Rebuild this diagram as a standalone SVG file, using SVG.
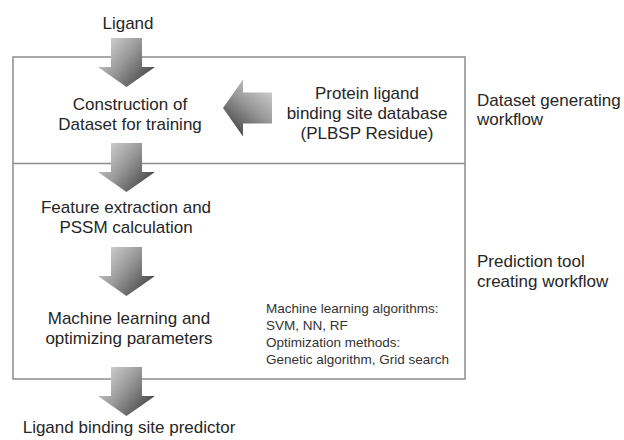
<svg xmlns="http://www.w3.org/2000/svg" xmlns:xlink="http://www.w3.org/1999/xlink" width="624" height="440" viewBox="0 0 624 440">
  <defs>
    <style>
      .t { font-family: "Liberation Sans", Arial, sans-serif; font-size: 17px; fill: #262626; }
      .c { text-anchor: middle; }
      .s { font-family: "Liberation Sans", Arial, sans-serif; font-size: 13.5px; fill: #333333; }
      .frame { fill: none; stroke: #8c8c8c; stroke-width: 1.5; }
      .arrow { fill: url(#arrowShade); }
    </style>
    <linearGradient id="arrowShade" x1="0" y1="0.15" x2="1" y2="0.85">
      <stop offset="0" stop-color="#d6d6d6"/>
      <stop offset="0.45" stop-color="#9a9a9a"/>
      <stop offset="1" stop-color="#3a3a3a"/>
    </linearGradient>
    <!-- block arrow pointing down, tail centred at the origin -->
    <path id="blockArrow" d="M-15.5,0 H15.5 V29 H28.5 L0,49 L-28.5,29 H-15.5 Z"/>
  </defs>

  <rect width="624" height="440" fill="#ffffff"/>

  <!-- workflow frame and the line that splits its two stages -->
  <g id="frame">
    <rect class="frame" x="13" y="57" width="452" height="322"/>
    <line class="frame" x1="13" y1="163.5" x2="465" y2="163.5"/>
  </g>

  <g id="connectors">
    <use class="arrow" xlink:href="#blockArrow" transform="translate(126.5,38)"/>
    <use class="arrow" xlink:href="#blockArrow" transform="translate(126.5,143)"/>
    <use class="arrow" xlink:href="#blockArrow" transform="translate(126.5,247)"/>
    <use class="arrow" xlink:href="#blockArrow" transform="translate(126.5,367)"/>
    <use class="arrow" xlink:href="#blockArrow" transform="translate(272,108) rotate(90)"/>
  </g>

  <g id="ligand">
    <text class="t c" x="128" y="29">Ligand</text>
  </g>

  <g id="dataset-construction">
    <text class="t c" x="130" y="110">Construction of</text>
    <text class="t c" x="130" y="130">Dataset for training</text>
  </g>

  <g id="plbsp-database">
    <text class="t c" x="367" y="99">Protein ligand</text>
    <text class="t c" x="367" y="119">binding site database</text>
    <text class="t c" x="367" y="139">(PLBSP Residue)</text>
  </g>

  <g id="feature-extraction">
    <text class="t c" x="126" y="213">Feature extraction and</text>
    <text class="t c" x="126" y="233">PSSM calculation</text>
  </g>

  <g id="machine-learning">
    <text class="t c" x="129" y="324">Machine learning and</text>
    <text class="t c" x="129" y="344">optimizing parameters</text>
  </g>

  <g id="methods-note">
    <text class="s" x="266" y="313">Machine learning algorithms:</text>
    <text class="s" x="266" y="330">SVM, NN, RF</text>
    <text class="s" x="266" y="347">Optimization methods:</text>
    <text class="s" x="266" y="364">Genetic algorithm, Grid search</text>
  </g>

  <g id="predictor">
    <text class="t c" x="129" y="433">Ligand binding site predictor</text>
  </g>

  <g id="stage-labels">
    <text class="t" x="477" y="106">Dataset generating</text>
    <text class="t" x="477" y="125">workflow</text>
    <text class="t" x="477" y="267">Prediction tool</text>
    <text class="t" x="477" y="287">creating workflow</text>
  </g>
</svg>
